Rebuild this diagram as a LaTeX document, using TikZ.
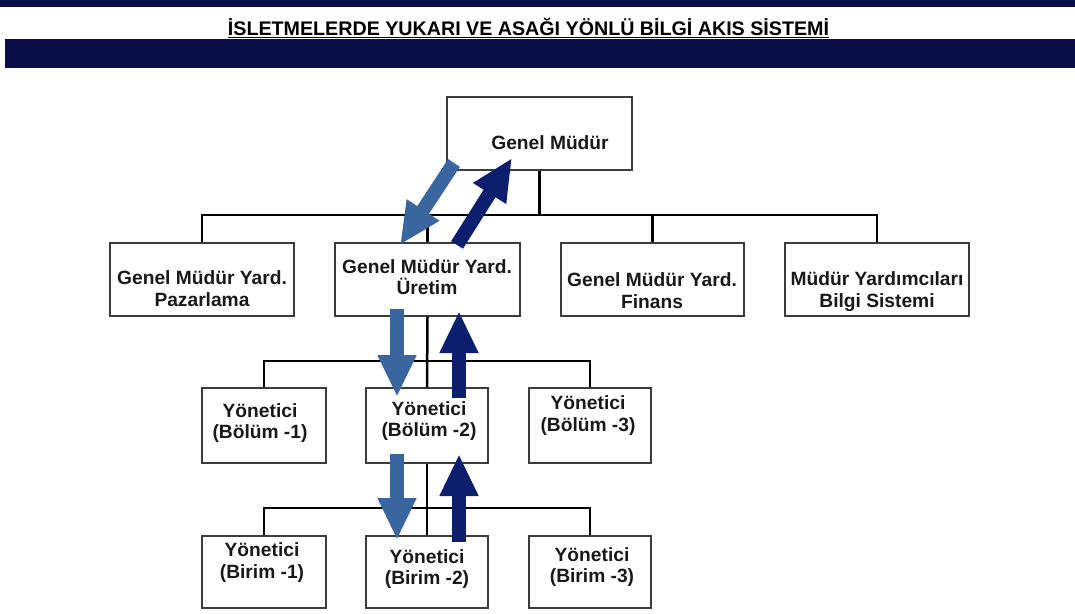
\documentclass[tikz,border=0pt]{standalone}
\usepackage{fontspec}
\setmainfont{Liberation Sans}
\usetikzlibrary{arrows.meta}
\definecolor{navyband}{RGB}{10,14,72}
\definecolor{downblue}{RGB}{58,102,160}
\definecolor{upnavy}{RGB}{12,30,110}
\definecolor{boxline}{RGB}{60,60,60}
\definecolor{txt}{RGB}{25,25,25}
\begin{document}
\begin{tikzpicture}[x=1pt,y=-1pt,
  orgbox/.style={draw=boxline,line width=1.4pt,fill=white,inner sep=0pt},
  boxtext/.style={font=\fontsize{19.2}{21.5}\selectfont\bfseries,text=txt,align=center,inner sep=0pt},
  link/.style={draw=black,line width=2.5pt},
  downarrow/.style={draw=downblue,line width=14pt,-{Triangle[width=36pt,length=42pt]}},
  uparrow/.style={draw=upnavy,line width=14pt,-{Triangle[width=36pt,length=42pt]}}]
\useasboundingbox (0,0) rectangle (1075,613);
\fill[white] (0,0) rectangle (1075,613);
% bands
\fill[navyband] (0,0) rectangle (1075,7);
\fill[navyband] (5,39) rectangle (1075,68);
% title
\node[anchor=base,inner sep=0pt,text=black] (title) at (528.5,35)
  {\resizebox{601pt}{!}{\bfseries İSLETMELERDE YUKARI VE ASAĞI YÖNLÜ BİLGİ AKIS SİSTEMİ}};
\draw[line width=0.9pt] ([yshift=-2.5pt]title.base west) -- ([yshift=-2.5pt]title.base east);
% boxes
\node[orgbox,minimum width=185pt,minimum height=73pt] (GM) at (539.5,133.5) {};
\node[orgbox,minimum width=184pt,minimum height=73pt] (P) at (202,279.5) {};
\node[orgbox,minimum width=185pt,minimum height=73pt] (U) at (427.5,279.5) {};
\node[orgbox,minimum width=183pt,minimum height=73pt] (F) at (652.5,279.5) {};
\node[orgbox,minimum width=184pt,minimum height=73pt] (B) at (877,279.5) {};
\node[orgbox,minimum width=124pt,minimum height=75pt] (B1) at (264,425.5) {};
\node[orgbox,minimum width=122pt,minimum height=75pt] (B2) at (427,425.5) {};
\node[orgbox,minimum width=122pt,minimum height=75pt] (B3) at (590,425.5) {};
\node[orgbox,minimum width=124pt,minimum height=72pt] (C1) at (264,572) {};
\node[orgbox,minimum width=122pt,minimum height=72pt] (C2) at (427,572) {};
\node[orgbox,minimum width=122pt,minimum height=72pt] (C3) at (590,572) {};
% level coordinates
\coordinate (h1) at (0,215);
\coordinate (h2) at (0,361);
\coordinate (h3) at (0,508);
% connectors
\draw[link] (GM.south) -- (GM.south |- h1);
\draw[link] (P.north) |- (B.north |- h1) -- (B.north);
\draw[link] (U.north) -- (U.north |- h1);
\draw[link] (F.north) -- (F.north |- h1);
\draw[link] (U.south) -- (B2.north);
\draw[link] (B1.north) |- (B3.north |- h2) -- (B3.north);
\draw[link] (B2.south) -- (C2.north);
\draw[link] (C1.north) |- (C3.north |- h3) -- (C3.north);
% texts
\node[boxtext] (GMt) at (550,143) {Genel Müdür};
\node[boxtext] (Pt) at (202,288.5) {Genel Müdür Yard.\\Pazarlama};
\node[boxtext] (Ut) at (427,277) {Genel Müdür Yard.\\Üretim};
\node[boxtext] (Ft) at (652,290.5) {Genel Müdür Yard.\\Finans};
\node[boxtext] (Bt) at (877,291.5) {Müdür Yardımcıları\\Bilgi Sistemi};
\node[boxtext] (B1t) at (260,423) {Yönetici\\(Bölüm -1)};
\node[boxtext] (B2t) at (429,421) {Yönetici\\(Bölüm -2)};
\node[boxtext] (B3t) at (588,415.5) {Yönetici\\(Bölüm -3)};
\node[boxtext] (C1t) at (262,562.5) {Yönetici\\(Birim -1)};
\node[boxtext] (C2t) at (427,569) {Yönetici\\(Birim -2)};
\node[boxtext] (C3t) at (592,567) {Yönetici\\(Birim -3)};
% flow arrows
\coordinate (a1s) at (454,163); \coordinate (a1e) at (400,245);
\coordinate (a2s) at (457,245); \coordinate (a2e) at (512,158);
\coordinate (a3s) at (397,309); \coordinate (a3e) at (397,397);
\coordinate (a4s) at (459,398); \coordinate (a4e) at (459,311);
\coordinate (a5s) at (397,454); \coordinate (a5e) at (397,540);
\coordinate (a6s) at (459,542); \coordinate (a6e) at (459,454);
\draw[downarrow] (a1s) -- (a1e);
\draw[uparrow] (a2s) -- (a2e);
\draw[downarrow] (a3s) -- (a3e);
\draw[uparrow] (a4s) -- (a4e);
\draw[downarrow] (a5s) -- (a5e);
\draw[uparrow] (a6s) -- (a6e);
\end{tikzpicture}
\end{document}
